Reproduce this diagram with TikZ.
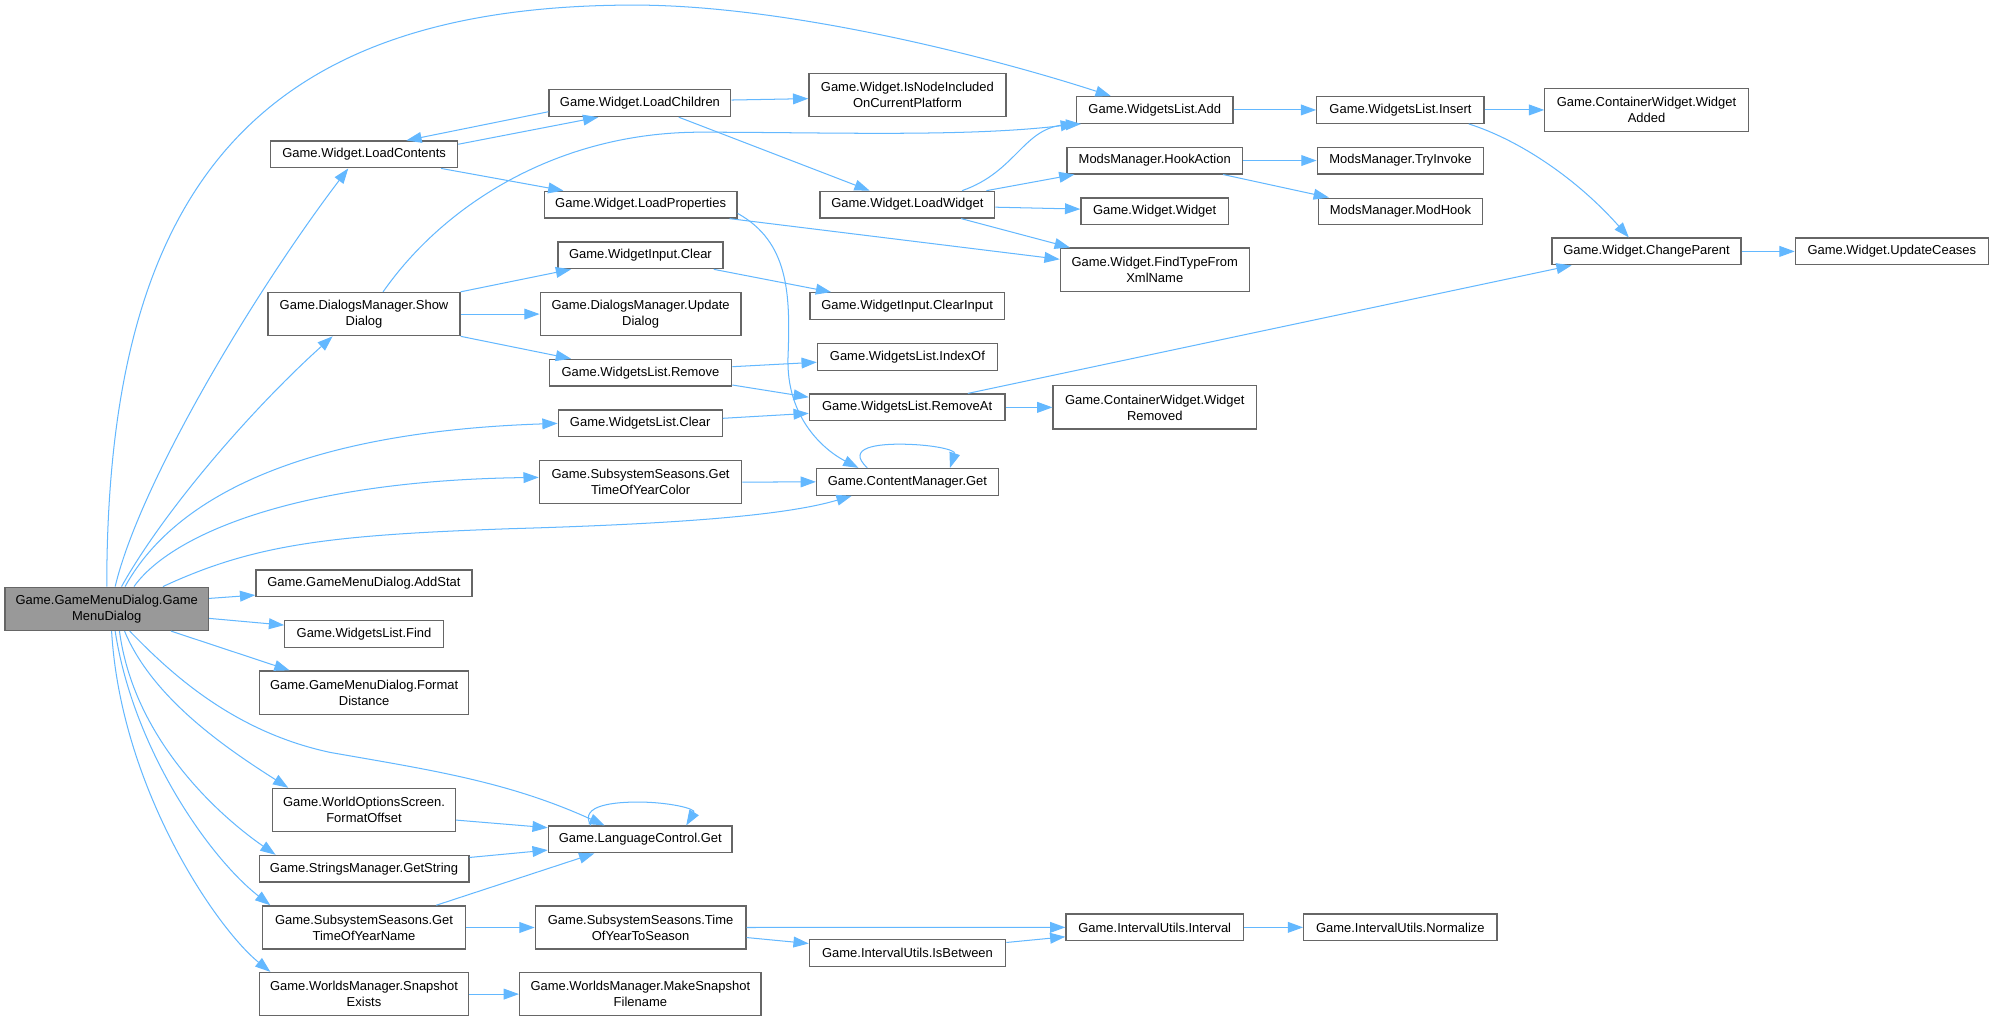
\documentclass[tikz,border=0pt]{standalone}
\usepackage{fontspec}
\setmainfont{Liberation Sans}
\usetikzlibrary{arrows.meta}
\definecolor{edgeblue}{HTML}{63B8FF}
\definecolor{boxgray}{HTML}{666666}
\definecolor{maingray}{HTML}{999999}
\begin{document}
\begin{tikzpicture}[x=1pt,y=1pt,
  fn/.style={draw=boxgray, line width=1pt, fill=white, inner sep=0pt, align=center,
    font=\fontsize{10.2pt}{12.6pt}\selectfont, text=black},
  one/.style={fn, minimum height=21pt},
  two/.style={fn, minimum height=34pt},
  cl/.style={draw=edgeblue, line width=0.8pt, -{Triangle[length=12pt,width=8.5pt]}},
]
\fill[white] (0,0) rectangle (1568,-803);
\useasboundingbox (0,0) rectangle (1568,-803);

% nodes
\node[two, fill=maingray, minimum width=160pt] (main) at (84,-479) {Game.GameMenuDialog.Game\\MenuDialog};
\node[one, minimum width=147pt] (lc) at (286.5,-121.5) {Game.Widget.LoadContents};
\node[one, minimum width=143pt] (lch) at (503.5,-81.2) {Game.Widget.LoadChildren};
\node[two, minimum width=155pt] (inc) at (713.9,-74.9) {Game.Widget.IsNodeIncluded\\OnCurrentPlatform};
\node[one, minimum width=123pt] (add) at (908.5,-86.5) {Game.WidgetsList.Add};
\node[one, minimum width=131.6pt] (ins) at (1101.8,-86.5) {Game.WidgetsList.Insert};
\node[two, minimum width=160pt] (wa) at (1295.4,-86.5) {Game.ContainerWidget.Widget\\Added};
\node[one, minimum width=138pt] (hook) at (908.5,-126.3) {ModsManager.HookAction};
\node[one, minimum width=131pt] (try) at (1101.8,-126.3) {ModsManager.TryInvoke};
\node[one, minimum width=151.7pt] (lp) at (504,-161) {Game.Widget.LoadProperties};
\node[one, minimum width=137.4pt] (lw) at (713.9,-161) {Game.Widget.LoadWidget};
\node[one, minimum width=116pt] (ww) at (908.4,-166.3) {Game.Widget.Widget};
\node[one, minimum width=129pt] (mh) at (1101.8,-166.4) {ModsManager.ModHook};
\node[one, minimum width=148.6pt] (cp) at (1295.4,-197.8) {Game.Widget.ChangeParent};
\node[one, minimum width=151.8pt] (uc) at (1488.4,-197.8) {Game.Widget.UpdateCeases};
\node[two, minimum width=148.6pt] (ft) at (908.5,-212.2) {Game.Widget.FindTypeFrom\\XmlName};
\node[one, minimum width=130pt] (wic) at (503.9,-200.9) {Game.WidgetInput.Clear};
\node[one, minimum width=153pt] (ci) at (713.7,-240.8) {Game.WidgetInput.ClearInput};
\node[two, minimum width=151pt] (sd) at (286.4,-247.1) {Game.DialogsManager.Show\\Dialog};
\node[two, minimum width=158pt] (ud) at (504,-247.1) {Game.DialogsManager.Update\\Dialog};
\node[one, minimum width=141.6pt] (io) at (713.9,-280.8) {Game.WidgetsList.IndexOf};
\node[one, minimum width=143.5pt] (rm) at (503.9,-293.2) {Game.WidgetsList.Remove};
\node[one, minimum width=153.8pt] (ra) at (713.7,-320.5) {Game.WidgetsList.RemoveAt};
\node[two, minimum width=160pt] (wr) at (908.5,-320.5) {Game.ContainerWidget.Widget\\Removed};
\node[one, minimum width=129pt] (wlc) at (503.7,-333.1) {Game.WidgetsList.Clear};
\node[two, minimum width=159.3pt] (gc) at (504,-379.3) {Game.SubsystemSeasons.Get\\TimeOfYearColor};
\node[one, minimum width=143pt] (cm) at (713.9,-379.1) {Game.ContentManager.Get};
\node[one, minimum width=170pt] (as) at (286.3,-459) {Game.GameMenuDialog.AddStat};
\node[one, minimum width=124.7pt] (fd) at (286.4,-498.9) {Game.WidgetsList.Find};
\node[two, minimum width=164.6pt] (fdist) at (286.5,-544.9) {Game.GameMenuDialog.Format\\Distance};
\node[two, minimum width=144pt] (fo) at (286.4,-637.3) {Game.WorldOptionsScreen.\\FormatOffset};
\node[one, minimum width=144.5pt] (lg) at (503.7,-660.4) {Game.LanguageControl.Get};
\node[one, minimum width=165pt] (gs) at (286.4,-683.5) {Game.StringsManager.GetString};
\node[two, minimum width=159.4pt] (gn) at (286.4,-729.7) {Game.SubsystemSeasons.Get\\TimeOfYearName};
\node[two, minimum width=165.7pt] (ts) at (504,-729.7) {Game.SubsystemSeasons.Time\\OfYearToSeason};
\node[two, minimum width=164pt] (se) at (286.4,-782.1) {Game.WorldsManager.Snapshot\\Exists};
\node[two, minimum width=190pt] (msf) at (503.8,-782.1) {Game.WorldsManager.MakeSnapshot\\Filename};
\node[one, minimum width=154.5pt] (ib) at (714,-749.6) {Game.IntervalUtils.IsBetween};
\node[one, minimum width=139.7pt] (iv) at (908.5,-729.6) {Game.IntervalUtils.Interval};
\node[one, minimum width=152pt] (nz) at (1101.7,-729.6) {Game.IntervalUtils.Normalize};

% edges from main
\draw[cl] (main.north) .. controls (84,-150) and (200,-4) .. (499,-4) .. controls (620,-4) and (780,-45) .. ([xshift=-34.6]add.north);
\draw[cl] ([xshift=6.6]main.north) .. controls (110,-380) and (200,-230) .. ([xshift=-12.5]lc.south);
\draw[cl] ([xshift=11.6]main.north) .. controls (130,-400) and (200,-320) .. ([xshift=-24.7]sd.south);
\draw[cl] ([xshift=14.4]main.north) .. controls (135,-395) and (230,-340) .. (wlc.west);
\draw[cl] ([xshift=21.4]main.north) .. controls (135,-420) and (235,-378) .. ([yshift=3.7]gc.west);
\draw[cl] ([xshift=44.2]main.north) .. controls (200,-428) and (260,-421) .. (400,-416) .. controls (540,-412) and (620,-405) .. ([xshift=-43.8]cm.south);
\draw[cl] ([yshift=8.2]main.east) -- ([yshift=-9.2]as.west);
\draw[cl] ([yshift=-7.5]main.east) -- ([yshift=7.1]fd.west);
\draw[cl] ([xshift=50.5]main.south) -- ([xshift=24.1]fdist.north west);
\draw[cl] ([xshift=18]main.south) .. controls (130,-525) and (180,-575) .. (260,-592) .. controls (340,-606) and (400,-615) .. ([xshift=-28]lg.north);
\draw[cl] ([xshift=14]main.south) .. controls (120,-550) and (180,-590) .. ([xshift=-59.6]fo.north);
\draw[cl] ([xshift=10]main.south) .. controls (105,-580) and (170,-640) .. ([xshift=-69.6]gs.north);
\draw[cl] ([xshift=6.6]main.south) .. controls (105,-590) and (165,-675) .. ([xshift=-73.7]gn.north);
\draw[cl] ([xshift=3.8]main.south) .. controls (95,-620) and (170,-730) .. ([xshift=-73.7]se.north);

% other edges
\draw[cl] ([yshift=-3]lc.north east) -- ([xshift=-32.8]lch.south);
\draw[cl] ([yshift=-6.7]lch.west) -- ([xshift=33.2]lc.north);
\draw[cl] ([yshift=2.5]lch.east) -- ([yshift=-2.7]inc.west);
\draw[cl] ([xshift=30.5]lch.south) -- ([xshift=-29.7]lw.north);
\draw[cl] ([xshift=60.5]lc.south) -- ([xshift=-60.7]lp.north);
\draw[cl] ([xshift=15]sd.north) .. controls (350,-160) and (440,-104) .. (551,-104) .. controls (650,-104) and (760,-108) .. (add.south west);
\draw[cl] ([xshift=43]lw.north) .. controls (800,-135) and (805,-100) .. ([xshift=4]add.south west);
\draw[cl] ([xshift=-7]lw.north east) -- ([xshift=6.3]hook.south west);
\draw[cl] ([yshift=-2]lw.east) -- ([yshift=1.8]ww.west);
\draw[cl] ([xshift=42.3]lw.south) -- ([xshift=8]ft.north west);
\draw[cl] ([xshift=-6.4]lp.south east) -- ([yshift=8.2]ft.west);
\draw[cl] ([yshift=-6.9]lp.east) .. controls (620,-190) and (622,-230) .. (620,-280) .. controls (618,-330) and (650,-355) .. ([xshift=-38.5]cm.north);
\draw[cl] (add.east) -- (ins.west);
\draw[cl] (ins.east) -- (wa.west);
\draw[cl] ([xshift=-12.6]ins.south east) .. controls (1195,-110) and (1240,-140) .. ([xshift=-13.9]cp.north);
\draw[cl] (cp.east) -- (uc.west);
\draw[cl] (hook.east) -- (try.west);
\draw[cl] ([xshift=-15.8]hook.south east) -- ([xshift=8.7]mh.north west);
\draw[cl] (sd.north east) -- ([xshift=10.9]wic.south west);
\draw[cl] (sd.east) -- (ud.west);
\draw[cl] (sd.south east) -- ([xshift=17.6]rm.north west);
\draw[cl] ([xshift=-7.8]wic.south east) -- ([xshift=17.2]ci.north west);
\draw[cl] ([yshift=4.7]rm.east) -- ([yshift=-4.2]io.west);
\draw[cl] ([yshift=1.3]rm.south east) -- ([yshift=-3]ra.north west);
\draw[cl] ([yshift=4]wlc.east) -- ([yshift=-4.7]ra.west);
\draw[cl] (ra.east) -- (wr.west);
\draw[cl] ([xshift=47.8]ra.north) -- ([xshift=15.9]cp.south west);
\draw[cl] (gc.east) -- (cm.west);
\draw[cl] ([xshift=-31.5]cm.north) .. controls (665,-352) and (690,-349) .. (712,-349.5) .. controls (735,-350) and (752,-354) .. ([xshift=33.5]cm.north);
\draw[cl] ([yshift=-7.9]fo.east) -- ([yshift=9.2]lg.west);
\draw[cl] ([yshift=8.9]gs.east) -- ([yshift=-8.4]lg.west);
\draw[cl] ([xshift=56.8]gn.north) -- ([xshift=-36.1]lg.south);
\draw[cl] ([xshift=-38.9]lg.north) .. controls (455,-633) and (485,-631) .. (502,-631) .. controls (525,-631) and (548,-636) .. ([xshift=36.2]lg.north);
\draw[cl] (gn.east) -- (ts.west);
\draw[cl] (ts.east) -- (iv.west);
\draw[cl] ([yshift=-7.9]ts.east) -- ([yshift=7.3]ib.west);
\draw[cl] ([yshift=8.1]ib.east) -- ([yshift=-7.4]iv.west);
\draw[cl] (iv.east) -- (nz.west);
\draw[cl] (se.east) -- (msf.west);
\end{tikzpicture}
\end{document}
